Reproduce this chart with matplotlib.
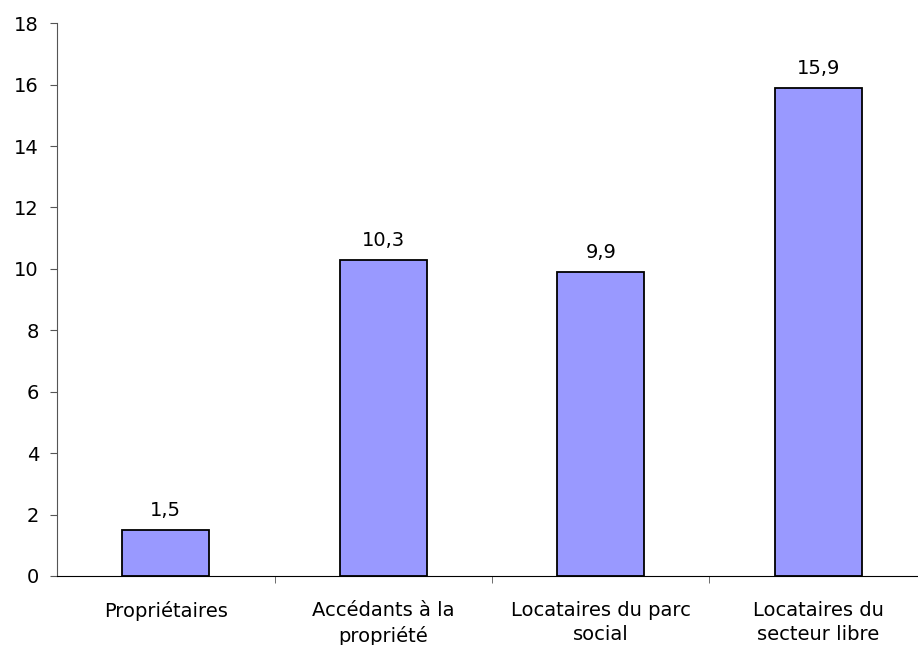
import matplotlib.pyplot as plt

# Données du graphique
categories = ['Propriétaires', 'Accédants à la\npropriété',
              'Locataires du parc\nsocial', 'Locataires du\nsecteur libre']
valeurs = [1.5, 10.3, 9.9, 15.9]
etiquettes = ['1,5', '10,3', '9,9', '15,9']

plt.rcParams['font.family'] = ['DejaVu Sans']
plt.rcParams['font.size'] = 14

fig = plt.figure(figsize=(9.18, 6.45), dpi=100)
ax = fig.add_axes([0.0621, 0.107, 0.9477, 0.857])

pos = list(range(len(categories)))
barres = ax.bar(pos, valeurs, width=0.4, color='#9999FF',
                edgecolor='black', linewidth=1.3)
ax.bar_label(barres, labels=etiquettes, padding=7, fontsize=14)

ax.set_xlim(-0.5, 3.5)
ax.set_ylim(0, 18)
ax.set_yticks(range(0, 19, 2))
ax.set_xticks(pos, categories, linespacing=1.35)
ax.set_xticks([0.5, 1.5, 2.5, 3.5], minor=True)
ax.tick_params(axis='x', which='major', length=0, pad=18)
ax.tick_params(axis='x', which='minor', length=5, color='#555555')
ax.tick_params(axis='y', length=5, color='#555555', pad=8)

ax.spines['top'].set_visible(False)
ax.spines['right'].set_visible(False)
ax.spines['left'].set_color('#555555')
ax.spines['bottom'].set_color('black')

fig.savefig('out.png', dpi=100)
